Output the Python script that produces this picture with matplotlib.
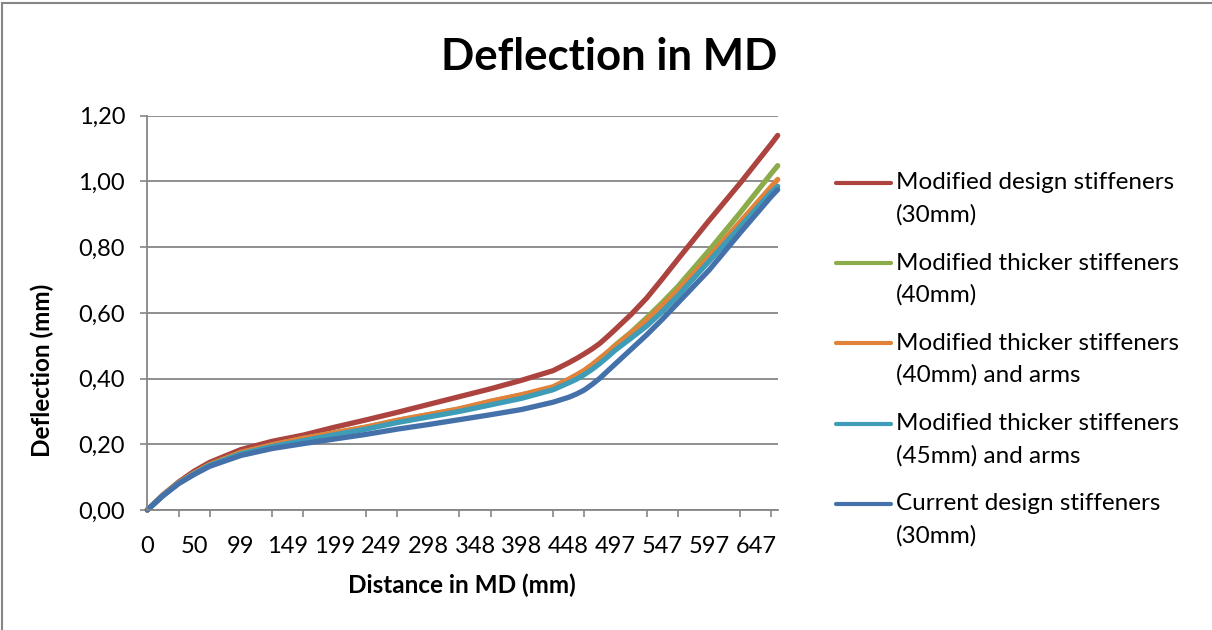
import matplotlib.pyplot as plt
from matplotlib.patches import Rectangle
from matplotlib.lines import Line2D

plt.rcParams['font.family'] = ['Lato', 'DejaVu Sans']

# distance along MD (mm) and deflection (mm) per design variant
distance = [0, 16.6, 33.2, 49.7, 66.3, 99.5, 132.6, 165.8, 199.0, 232.1, 265.3, 298.4,
            331.6, 364.8, 397.9, 431.1, 447.7, 456.0, 464.2, 472.5, 480.8, 489.1, 497.4,
            514.0, 530.6, 547.1, 563.7, 596.9, 630.0, 663.2, 669.8]

mod_design_30 = [0, 0.046, 0.085, 0.118, 0.145, 0.184, 0.209, 0.228, 0.252, 0.274, 0.297, 0.321,
                 0.345, 0.369, 0.395, 0.424, 0.448, 0.461, 0.475, 0.490, 0.507, 0.528, 0.550,
                 0.595, 0.645, 0.703, 0.763, 0.881, 0.995, 1.115, 1.140]
mod_thick_40 = [0, 0.045, 0.082, 0.112, 0.138, 0.175, 0.198, 0.218, 0.235, 0.252, 0.272, 0.290,
                0.307, 0.330, 0.350, 0.373, 0.397, 0.410, 0.423, 0.441, 0.460, 0.480, 0.502,
                0.541, 0.585, 0.631, 0.680, 0.790, 0.905, 1.025, 1.048]
mod_thick_40_arms = [0, 0.045, 0.082, 0.112, 0.138, 0.175, 0.198, 0.218, 0.235, 0.252, 0.273, 0.290,
                     0.308, 0.331, 0.351, 0.375, 0.398, 0.411, 0.425, 0.442, 0.461, 0.480, 0.500,
                     0.538, 0.578, 0.622, 0.668, 0.770, 0.877, 0.985, 1.006]
mod_thick_45_arms = [0, 0.044, 0.081, 0.110, 0.136, 0.171, 0.193, 0.211, 0.229, 0.246, 0.266, 0.283,
                     0.300, 0.320, 0.340, 0.366, 0.387, 0.398, 0.412, 0.428, 0.446, 0.466, 0.487,
                     0.523, 0.560, 0.604, 0.652, 0.757, 0.862, 0.968, 0.985]
current_design_30 = [0, 0.043, 0.080, 0.108, 0.133, 0.166, 0.187, 0.202, 0.216, 0.230, 0.246, 0.260,
                     0.275, 0.290, 0.306, 0.328, 0.343, 0.353, 0.365, 0.382, 0.401, 0.423, 0.445,
                     0.489, 0.533, 0.580, 0.630, 0.730, 0.844, 0.955, 0.975]

series_names = [('Modified design stiffeners', '(30mm)'),
                ('Modified thicker stiffeners', '(40mm)'),
                ('Modified thicker stiffeners', '(40mm) and arms'),
                ('Modified thicker stiffeners', '(45mm) and arms'),
                ('Current design stiffeners', '(30mm)')]
colors = ['#AC433F', '#8CAB4B', '#E2823A', '#3E9CB6', '#4571AB']

# category axis: one node every 3.316 mm, tick marks every 10 nodes, labels every 15
node_step = 3.316
x_labels = ['0', '50', '99', '149', '199', '249', '298', '348', '398', '448', '497', '547', '597', '647']
y_ticks = [0, 0.2, 0.4, 0.6, 0.8, 1.0, 1.2]
y_labels = ['0,00', '0,20', '0,40', '0,60', '0,80', '1,00', '1,20']

grey = '#868686'
fs = 17
W, H = 1212, 630

fig = plt.figure(figsize=(W / 100, H / 100), dpi=100)
ax = fig.add_axes([147.3 / W, 1 - 510 / H, (777.7 - 147.3) / W, (510 - 115.7) / H])

for vals, c in zip([mod_design_30, mod_thick_40, mod_thick_40_arms,
                    mod_thick_45_arms, current_design_30], colors):
    ax.plot(distance, vals, color=c, lw=3.8, clip_on=False,
            solid_capstyle='round', solid_joinstyle='round')

ax.set_xlim(0, 669.8)
ax.set_ylim(0, 1.2)

ax.set_xticks([i * 15 * node_step for i in range(len(x_labels))], x_labels)
ax.set_xticks([i * 10 * node_step for i in range(21)], minor=True)
ax.tick_params(axis='x', which='major', length=0, pad=19, labelsize=fs)
ax.tick_params(axis='x', which='minor', length=5, width=1.2, color=grey, direction='out')

ax.set_yticks(y_ticks, y_labels)
ax.tick_params(axis='y', length=5, width=1.2, color=grey, pad=11, labelsize=fs)
ax.grid(axis='y', color=grey, lw=1.3)
ax.set_axisbelow(True)

for side in ['top', 'right']:
    ax.spines[side].set_visible(False)
for side in ['left', 'bottom']:
    ax.spines[side].set_color(grey)
    ax.spines[side].set_linewidth(1.3)

fig.text(609 / W, 1 - 57 / H, 'Deflection in MD', ha='center', va='center',
         fontsize=31.5, fontweight='bold')
fig.text(462 / W, 1 - 585 / H, 'Distance in MD (mm)', ha='center', va='center',
         fontsize=17.5, fontweight='bold')
fig.text(42 / W, 1 - 370 / H, 'Deflection (mm)', ha='center', va='center',
         rotation=90, fontsize=17.5, fontweight='bold')

# legend: handle sits level with the first text line
for i, ((line1, line2), c) in enumerate(zip(series_names, colors)):
    y = 182.7 + i * 80.3
    fig.add_artist(Line2D([836 / W, 891 / W], [1 - y / H, 1 - y / H], color=c, lw=3.0,
                          solid_capstyle='round', transform=fig.transFigure))
    fig.text(896 / W, 1 - y / H, line1, ha='left', va='center', fontsize=17.5)
    fig.text(896 / W, 1 - (y + 32) / H, line2, ha='left', va='center', fontsize=17.5)

# chart area border
fig.add_artist(Rectangle((1.7 / W, -0.1), 1.2, 1.1 - 3.3 / H, transform=fig.transFigure,
                         fill=False, edgecolor=grey, lw=1.5))

fig.savefig('out.png', dpi=100)
